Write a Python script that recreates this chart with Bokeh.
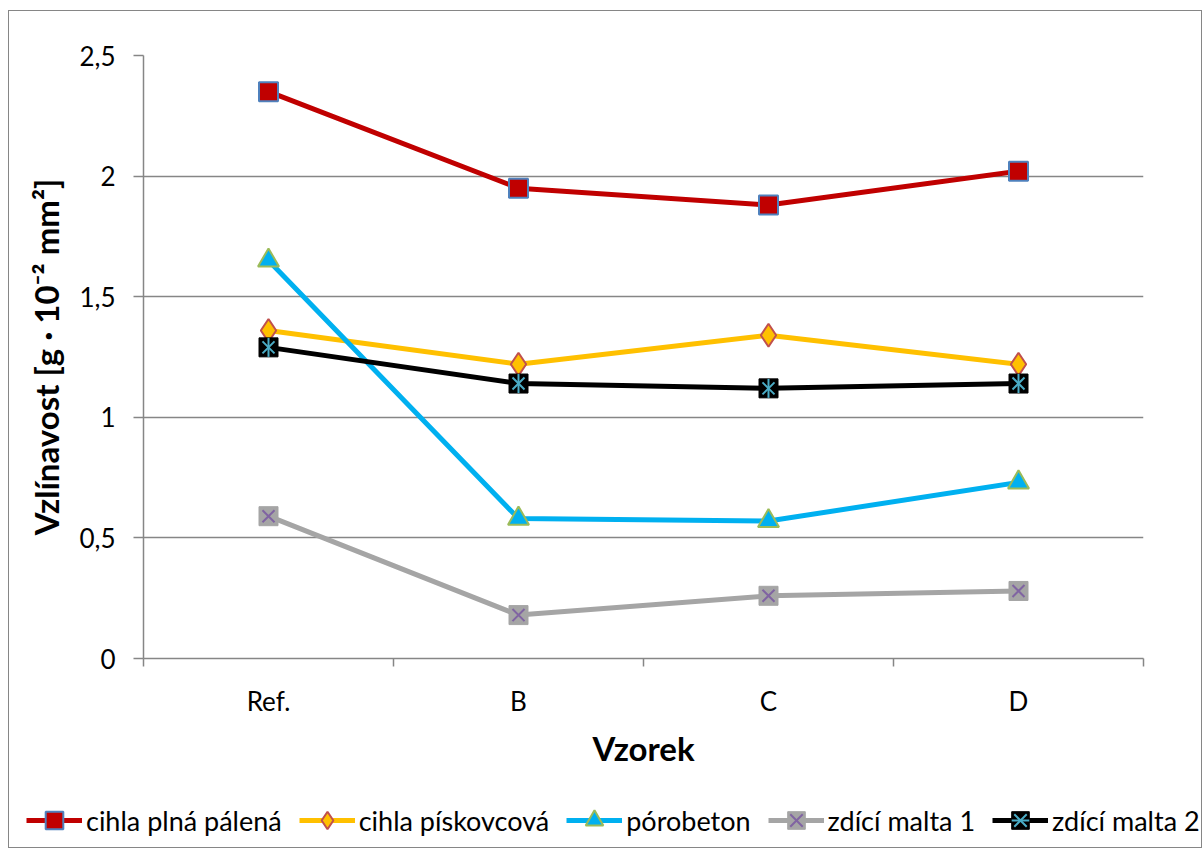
from bokeh.plotting import figure
from bokeh.models import FixedTicker, Legend, LegendItem, ColumnDataSource
from bokeh.embed import file_html
from bokeh.resources import INLINE
import math

categories = ["Ref.", "B", "C", "D"]
series_names = ["cihla plná pálená", "cihla pískovcová", "pórobeton", "zdící malta 1", "zdící malta 2"]
cihla_plna = [2.35, 1.95, 1.88, 2.02]
cihla_piskovcova = [1.36, 1.22, 1.34, 1.22]
porobeton = [1.65, 0.58, 0.57, 0.73]
malta1 = [0.59, 0.18, 0.26, 0.28]
malta2 = [1.29, 1.14, 1.12, 1.14]
y_ticks = [0, 0.5, 1, 1.5, 2, 2.5]
y_tick_labels = ["0", "0,5", "1", "1,5", "2", "2,5"]

FONT = "Lato"
GRID = "#868686"
BORDER = "1px solid #868686"

xs = [i + 0.5 for i in range(len(categories))]

p = figure(width=1194, height=780, output_backend="svg", toolbar_location=None,
           x_range=(0, len(categories)), y_range=(0, 2.5),
           min_border_left=134, min_border_right=60, min_border_top=44, min_border_bottom=133)
p.styles = {"border-left": BORDER, "border-top": BORDER, "border-right": BORDER,
            "margin-left": "8px", "margin-top": "10px"}
p.outline_line_color = None
p.background_fill_color = "white"
p.border_fill_color = "white"

# axes
p.xaxis.ticker = FixedTicker(ticks=xs, minor_ticks=list(range(len(categories) + 1)))
p.xaxis.major_label_overrides = {x: c for x, c in zip(xs, categories)}
p.xaxis.major_tick_out = 0
p.xaxis.major_tick_in = 0
p.xaxis.minor_tick_out = 8
p.xaxis.minor_tick_in = 0
p.xaxis.minor_tick_line_color = GRID
p.xaxis.minor_tick_line_width = 1.5
p.xaxis.axis_line_color = GRID
p.xaxis.axis_line_width = 1.5
p.xaxis.major_label_standoff = 18
p.xaxis.axis_label = "Vzorek"
p.xaxis.axis_label_standoff = 8

p.yaxis.ticker = FixedTicker(ticks=y_ticks, minor_ticks=[])
p.yaxis.major_label_overrides = {t: l for t, l in zip(y_ticks, y_tick_labels)}
p.yaxis.major_tick_out = 10
p.yaxis.major_tick_in = 0
p.yaxis.major_tick_line_color = GRID
p.yaxis.major_tick_line_width = 1.5
p.yaxis.axis_line_color = GRID
p.yaxis.axis_line_width = 1.5
p.yaxis.major_label_standoff = 18
p.yaxis.axis_label = "Vzlínavost [g · 10⁻² mm²]"
p.yaxis.axis_label_standoff = 10

for ax in (p.xaxis, p.yaxis):
    ax.major_label_text_font = FONT
    ax.major_label_text_font_size = "26px"
    ax.major_label_text_color = "black"
    ax.axis_label_text_font = FONT
    ax.axis_label_text_font_size = "33px"
    ax.axis_label_text_font_style = "bold"
    ax.axis_label_text_color = "black"

p.xgrid.visible = False
p.ygrid.ticker = FixedTicker(ticks=y_ticks)
p.ygrid.grid_line_color = GRID
p.ygrid.grid_line_width = 1.5

# legend strip: its own small figure below the chart; its view range is away from the data,
# so its renderers only serve as legend samples
lg = figure(width=1194, height=58, output_backend="svg", toolbar_location=None,
            x_range=(-20, -19), y_range=(-20, -19), min_border=0,
            x_axis_location=None, y_axis_location=None)
lg.styles = {"border-left": BORDER, "border-right": BORDER, "border-bottom": BORDER,
             "margin-left": "8px"}
lg.grid.visible = False
lg.outline_line_color = None
lg.background_fill_color = "white"
lg.border_fill_color = "white"

LW = 5
SZ = 19
styles = [
    dict(data=cihla_plna, color="#C00000",
         marks=[dict(marker="square", size=SZ, fill_color="#C00000", line_color="#4F81BD", line_width=2)]),
    dict(data=cihla_piskovcova, color="#FFC000",
         marks=[dict(marker="diamond", size=SZ + 4, fill_color="#FFC000", line_color="#C0504D", line_width=2)]),
    dict(data=porobeton, color="#00B0F0",
         marks=[dict(marker="triangle", size=SZ + 2, fill_color="#00B0F0", line_color="#9BBB59", line_width=2)]),
    dict(data=malta1, color="#A5A5A5",
         marks=[dict(marker="square", size=SZ, fill_color="#A5A5A5", line_color="#A5A5A5", line_width=1),
                dict(marker="x", size=SZ - 2, line_color="#8064A2", line_width=2)]),
    dict(data=malta2, color="#000000",
         marks=[dict(marker="square", size=SZ, fill_color="#000000", line_color="#000000", line_width=1),
                dict(marker="x", size=SZ - 2, line_color="#4BACC6", line_width=2),
                dict(marker="dash", angle=math.pi / 2, size=SZ, line_color="#4BACC6", line_width=2)]),
]

items = []
for name, st in zip(series_names, styles):
    src = ColumnDataSource(dict(x=xs, y=st["data"]))
    p.line("x", "y", source=src, line_color=st["color"], line_width=LW)
    for m in st["marks"]:
        p.scatter("x", "y", source=src, **m)
    rs = [lg.line("x", "y", source=src, line_color=st["color"], line_width=LW)]
    for m in st["marks"]:
        rs.append(lg.scatter("x", "y", source=src, **m))
    items.append(LegendItem(label=name, renderers=rs))

legend = Legend(items=items, orientation="horizontal", location=(17, 6),
                label_text_font=FONT, label_text_font_size="27px", label_text_color="black",
                glyph_width=56, glyph_height=44, label_standoff=4, spacing=17,
                padding=0, margin=0, border_line_color=None, background_fill_alpha=0)
lg.add_layout(legend, "center")

open("out.html", "w").write(file_html([p, lg], INLINE))
